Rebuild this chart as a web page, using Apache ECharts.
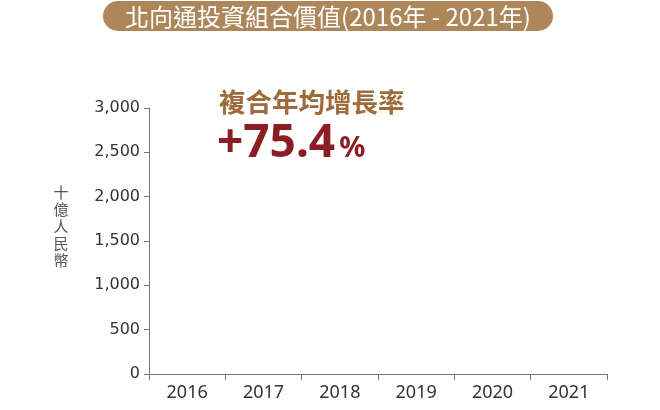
<!DOCTYPE html>
<html><head><meta charset="utf-8">
<script src="https://cdn.jsdelivr.net/npm/echarts@6/dist/echarts.min.js"></script>
<style>html,body{margin:0;padding:0;background:#fff}#c{width:660px;height:410px}</style>
</head><body><div id="c"></div>
<script>
var categories = ['2016','2017','2018','2019','2020','2021'];
var values = [null, null, null, null, null, null];
var yTicks = [0, 500, 1000, 1500, 2000, 2500, 3000];
var titleText = '北向通投資組合價值(2016年 - 2021年)';
var cagrLabel = '複合年均增長率';
var cagrValue = '+75.4';

var chart = echarts.init(document.getElementById('c'), null, {renderer:'canvas'});
var font = '"Noto Sans CJK TC","Noto Sans",sans-serif';
chart.setOption({
  animation: false,
  grid: {left:149, right:53, top:108, bottom:36},
  xAxis: {
    type:'category', data:categories, boundaryGap:true,
    axisLine:{lineStyle:{color:'#777', width:1}},
    axisTick:{show:true, length:6, lineStyle:{color:'#777'}},
    axisLabel:{color:'#333', fontSize:18, fontFamily:'"Noto Sans",sans-serif', margin:10}
  },
  yAxis: {
    type:'value', min:yTicks[0], max:yTicks[yTicks.length-1], interval:500,
    splitLine:{show:false},
    axisLine:{show:true, lineStyle:{color:'#777'}},
    axisTick:{show:true, length:5, lineStyle:{color:'#777'}},
    axisLabel:{color:'#333', fontSize:16, fontFamily:'"DejaVu Sans",sans-serif', margin:9,
      formatter:function(v){return v.toLocaleString('en-US');}}
  },
  series: [{type:'bar', data:values, itemStyle:{color:'#ad875a'}}],
  graphic: [
    {type:'rect', shape:{x:103, y:1, width:450, height:30, r:15}, style:{fill:'#ad875a'}},
    {type:'text', x:328, y:17, style:{text:titleText, fill:'#fff', font:'24px '+font, align:'center', verticalAlign:'middle'}},
    {type:'text', x:219, y:102, style:{text:cagrLabel, fill:'#9e6c3c', font:'bold 26.5px '+font, verticalAlign:'middle'}},
    {type:'text', x:217, y:144, style:{
      text:'{a|'+cagrValue+'}{b|%}', verticalAlign:'middle',
      rich:{a:{fill:'#8c1d25', font:'bold 46px "Noto Sans",sans-serif'},
            b:{fill:'#8c1d25', font:'bold 29px "Noto Sans",sans-serif', padding:[9,0,0,4]}}
    }},
    {type:'text', x:61, y:226, style:{text:'十\n億\n人\n民\n幣', fill:'#555', font:'15px '+font, align:'center', verticalAlign:'middle', lineHeight:17}}
  ]
});
</script></body></html>
